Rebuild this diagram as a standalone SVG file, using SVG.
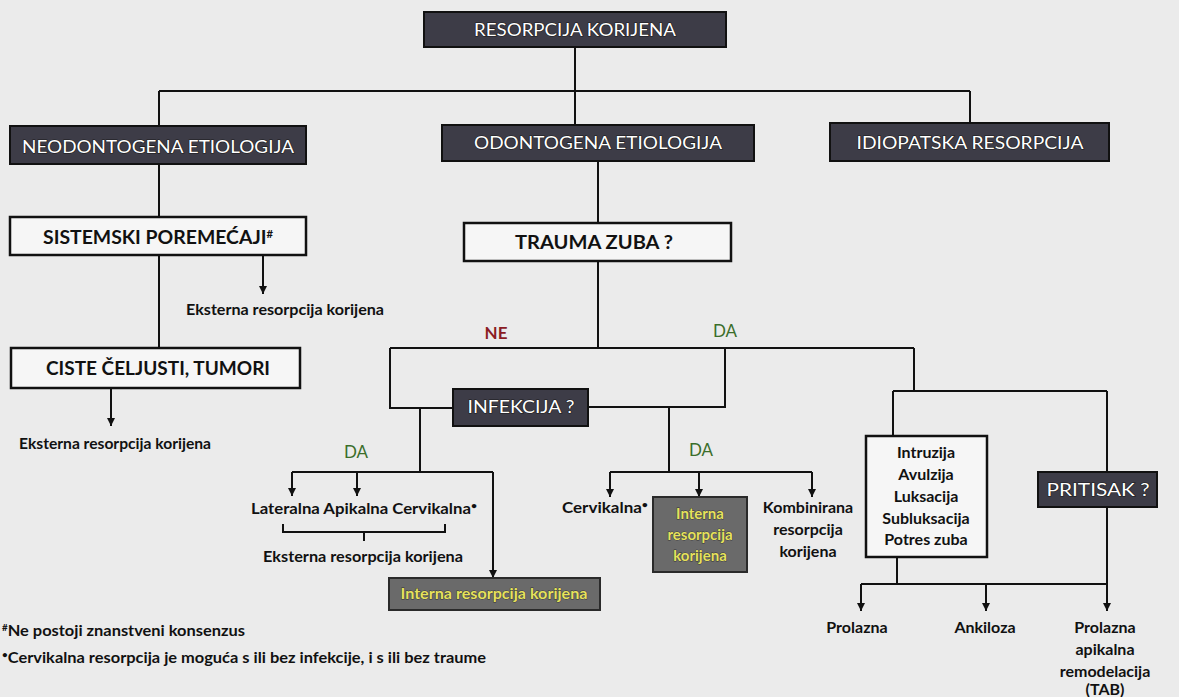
<svg xmlns="http://www.w3.org/2000/svg" width="1179" height="697" viewBox="0 0 1179 697">
<defs>
<marker id="ah" viewBox="0 0 10 10" refX="10" refY="5" markerWidth="8" markerHeight="8" markerUnits="userSpaceOnUse" orient="auto">
<path d="M0,0 L10,5 L0,10 z" fill="#111"/>
</marker>
<style>
.dark{fill:#3d3c47;stroke:#111;stroke-width:2}
.white{fill:#f6f6f6;stroke:#111;stroke-width:2.5}
.gray{fill:#6a6a6a;stroke:#2a2a2a;stroke-width:2}
.ht{font-family:Lato,"Open Sans",sans-serif;font-size:18px;fill:#fff;stroke:#1a1a1a;stroke-width:1.2;paint-order:stroke;text-anchor:middle}
.bt{font-family:Lato,"Open Sans",sans-serif;font-size:19px;font-weight:700;fill:#111;text-anchor:middle}
.t{font-family:Lato,"Open Sans",sans-serif;font-size:16px;font-weight:700;fill:#111;text-anchor:middle}
.fn{font-family:Lato,"Open Sans",sans-serif;font-size:15px;font-weight:700;fill:#111}
.yt{font-family:Lato,"Open Sans",sans-serif;font-size:15px;font-weight:700;fill:#e6e25c;stroke:#333;stroke-width:0.8;paint-order:stroke;text-anchor:middle}
.ne{font-family:Lato,"Open Sans",sans-serif;font-size:17px;font-weight:700;fill:#8b1c24;text-anchor:middle}
.da{font-family:Lato,"Open Sans",sans-serif;font-size:17px;fill:#3b6e2a;text-anchor:middle}
.ln{fill:none;stroke:#111;stroke-width:2}
.ar{fill:none;stroke:#111;stroke-width:2;marker-end:url(#ah)}
</style>
</defs>
<rect width="1179" height="697" fill="#ebebeb"/>

<g id="connectors">
<path class="ln" d="M575,47 V125"/>
<path class="ln" d="M159,91 H970"/>
<path class="ln" d="M159,91 V126"/>
<path class="ln" d="M970,91 V123"/>
<path class="ln" d="M159,164 V217"/>
<path class="ln" d="M598,161 V223"/>
<path class="ln" d="M159,255 V348"/>
<path class="ar" d="M263,255 V294"/>
<path class="ar" d="M111,388 V426"/>
<path class="ln" d="M598,261 V348"/>
<path class="ln" d="M390,348 H914"/>
<path class="ln" d="M390,348 V408 H453"/>
<path class="ln" d="M588,407 H725 V348"/>
<path class="ln" d="M420,408 V472"/>
<path class="ln" d="M292,472 H493"/>
<path class="ar" d="M292,472 V496"/>
<path class="ar" d="M357,472 V496"/>
<path class="ar" d="M493,472 V578"/>
<path class="ln" d="M669,407 V472"/>
<path class="ln" d="M610,472 H812"/>
<path class="ar" d="M610,472 V497"/>
<path class="ar" d="M699,472 V497"/>
<path class="ar" d="M812,472 V497"/>
<path class="ln" d="M914,348 V391"/>
<path class="ln" d="M893,391 H1107"/>
<path class="ln" d="M893,391 V436"/>
<path class="ln" d="M1107,391 V472"/>
<path class="ln" d="M897,557 V584"/>
<path class="ln" d="M861,584 H1107"/>
<path class="ar" d="M1107,507 V611"/>
<path class="ar" d="M861,584 V611"/>
<path class="ar" d="M986,584 V611"/>
<path class="ln" d="M283,524 V532 H445 V524 M364,532 V541"/>
</g>

<g id="n-resorpcija">
<rect class="dark" x="424" y="12" width="302" height="35"/>
<text class="ht" x="575" y="36" textLength="202" lengthAdjust="spacingAndGlyphs">RESORPCIJA KORIJENA</text>
</g>
<g id="n-neodontogena">
<rect class="dark" x="10" y="126" width="296" height="38"/>
<text class="ht" x="158" y="153" textLength="272" lengthAdjust="spacingAndGlyphs">NEODONTOGENA ETIOLOGIJA</text>
</g>
<g id="n-odontogena">
<rect class="dark" x="442" y="125" width="312" height="36"/>
<text class="ht" x="598" y="149" textLength="248" lengthAdjust="spacingAndGlyphs">ODONTOGENA ETIOLOGIJA</text>
</g>
<g id="n-idiopatska">
<rect class="dark" x="830" y="123" width="279" height="38"/>
<text class="ht" x="970" y="149" textLength="227" lengthAdjust="spacingAndGlyphs">IDIOPATSKA RESORPCIJA</text>
</g>
<g id="n-sistemski">
<rect class="white" x="10" y="217" width="296" height="38"/>
<text class="bt" x="158" y="244" textLength="230" lengthAdjust="spacingAndGlyphs">SISTEMSKI POREMEĆAJI<tspan font-size="11" dy="-6">#</tspan></text>
</g>
<g id="n-eksterna1">
<text class="t" x="285" y="315" textLength="198" lengthAdjust="spacingAndGlyphs">Eksterna resorpcija korijena</text>
</g>
<g id="n-ciste">
<rect class="white" x="11" y="348" width="289" height="40"/>
<text class="bt" x="158" y="375" textLength="224" lengthAdjust="spacingAndGlyphs">CISTE ČELJUSTI, TUMORI</text>
</g>
<g id="n-eksterna2">
<text class="t" x="115" y="449" textLength="192" lengthAdjust="spacingAndGlyphs">Eksterna resorpcija korijena</text>
</g>
<g id="n-trauma">
<rect class="white" x="464" y="223" width="267" height="38"/>
<text class="bt" x="594" y="249" textLength="158" lengthAdjust="spacingAndGlyphs">TRAUMA ZUBA ?</text>
</g>
<g id="labels">
<text class="ne" x="496" y="339">NE</text>
<text class="da" x="725" y="337">DA</text>
<text class="da" x="356" y="458">DA</text>
<text class="da" x="701" y="456">DA</text>
</g>
<g id="n-infekcija">
<rect class="dark" x="453" y="389" width="135" height="37"/>
<text class="ht" x="521" y="413" textLength="107" lengthAdjust="spacingAndGlyphs">INFEKCIJA ?</text>
</g>
<g id="n-tipovi">
<text class="t" x="364" y="514" textLength="226" lengthAdjust="spacingAndGlyphs">Lateralna Apikalna Cervikalna<tspan font-size="10" dy="-5">•</tspan></text>
</g>
<g id="n-eksterna3">
<text class="t" x="363" y="562" textLength="200" lengthAdjust="spacingAndGlyphs">Eksterna resorpcija korijena</text>
</g>
<g id="n-interna1">
<rect class="gray" x="389" y="578" width="211" height="32"/>
<text class="yt" x="494" y="599" textLength="187" lengthAdjust="spacingAndGlyphs">Interna resorpcija korijena</text>
</g>
<g id="n-cervikalna">
<text class="t" x="605" y="513" textLength="86" lengthAdjust="spacingAndGlyphs">Cervikalna<tspan font-size="10" dy="-5">•</tspan></text>
</g>
<g id="n-interna2">
<rect class="gray" x="653" y="497" width="94" height="75"/>
<text class="yt" x="700" y="519">Interna</text>
<text class="yt" x="700" y="540">resorpcija</text>
<text class="yt" x="700" y="561">korijena</text>
</g>
<g id="n-kombinirana">
<text class="t" x="808" y="513">Kombinirana</text>
<text class="t" x="808" y="535">resorpcija</text>
<text class="t" x="808" y="557">korijena</text>
</g>
<g id="n-luksacije">
<rect class="white" x="866" y="436" width="121" height="121" stroke-width="2"/>
<text class="t" x="926" y="458">Intruzija</text>
<text class="t" x="926" y="480">Avulzija</text>
<text class="t" x="926" y="502">Luksacija</text>
<text class="t" x="926" y="524">Subluksacija</text>
<text class="t" x="926" y="545">Potres zuba</text>
</g>
<g id="n-pritisak">
<rect class="dark" x="1038" y="472" width="119" height="35"/>
<text class="ht" x="1098" y="496" textLength="103" lengthAdjust="spacingAndGlyphs">PRITISAK ?</text>
</g>
<g id="n-prolazna">
<text class="t" x="857" y="633">Prolazna</text>
</g>
<g id="n-ankiloza">
<text class="t" x="985" y="633">Ankiloza</text>
</g>
<g id="n-tab">
<text class="t" x="1105" y="633">Prolazna</text>
<text class="t" x="1105" y="655">apikalna</text>
<text class="t" x="1105" y="677">remodelacija</text>
<text class="t" x="1105" y="695" font-size="10">(TAB)</text>
</g>
<g id="footnotes">
<text class="fn" x="2" y="636" textLength="243" lengthAdjust="spacingAndGlyphs"><tspan font-size="9" dy="-5">#</tspan><tspan dy="5">Ne postoji znanstveni konsenzus</tspan></text>
<text class="fn" x="2" y="663" textLength="484" lengthAdjust="spacingAndGlyphs"><tspan font-size="9" dy="-5">•</tspan><tspan dy="5">Cervikalna resorpcija je moguća s ili bez infekcije, i s ili bez traume</tspan></text>
</g>
</svg>
